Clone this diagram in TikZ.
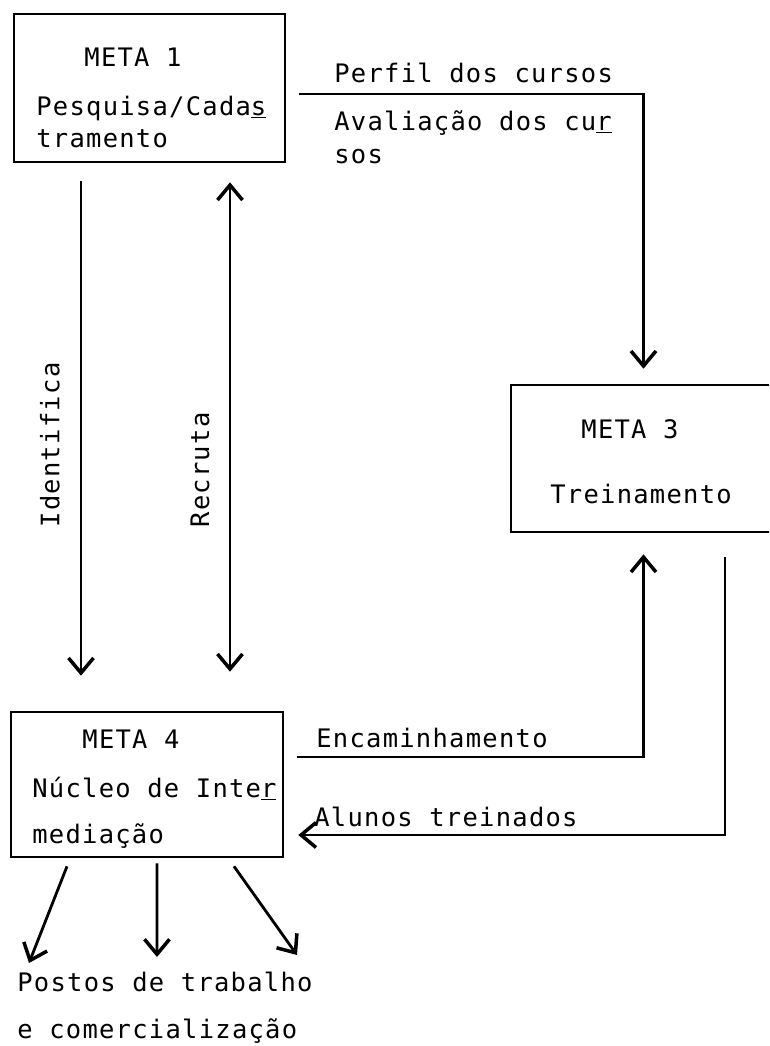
\documentclass[tikz,border=0pt]{standalone}
\usepackage{fontspec}
\newfontfamily\typewriter[LetterSpace=5]{DejaVu Sans Mono}
\usetikzlibrary{arrows.meta}

\begin{document}
\begin{tikzpicture}[x=0.02cm, y=-0.02cm,
      >={Straight Barb[length=3mm, width=5mm, line width=2pt]}]
       \tikzstyle{every node}=[font=\typewriter\fontsize{14.5}{17}\selectfont, inner sep=0pt]
       \tikzstyle{metabox}=[draw, line width=1.5pt]
       \tikzstyle{flowline}=[line width=1.6pt]
   \useasboundingbox (0,0) rectangle (769,1046);
   \clip (0,0) rectangle (769,1046);

% META 1: Pesquisa/Cadastramento
   \node[metabox, minimum width=5.42cm, minimum height=2.96cm] (meta1) at (149.5,88) {};
   \node[anchor=base] (meta1title) at (133,66) {META 1};
   \node[anchor=base west] (meta1text) at (36,115) {Pesquisa/Cada\underline{s}};
   \node[anchor=base west] (meta1cont) at (36,147) {tramento};

% META 3: Treinamento
   \node[metabox, minimum width=5.3cm, minimum height=2.94cm] (meta3) at (643.5,458.5) {};
   \node[anchor=base] (meta3title) at (630,438) {META 3};
   \node[anchor=base west] (meta3text) at (550,503) {Treinamento};

% META 4: Nucleo de Intermediacao
   \node[metabox, minimum width=5.44cm, minimum height=2.9cm] (meta4) at (147,784.5) {};
   \node[anchor=base] (meta4title) at (131,748) {META 4};
   \node[anchor=base west] (meta4text) at (32,797) {Núcleo de Inte\underline{r}};
   \node[anchor=base west] (meta4cont) at (32,843) {mediação};

% meta1 -> meta3
   \coordinate (perfilstart) at (299,94);
   \draw [flowline, ->, shorten >=0.3cm] (perfilstart) -| (meta3.north);
   \node[anchor=base west] (perfil) at (334,82) {Perfil dos cursos};
   \node[anchor=base west] (avaliacao) at (334,130) {Avaliação dos cu\underline{r}};
   \node[anchor=base west] (avaliacaocont) at (334,163) {sos};

% meta1 -> meta4, meta1 <-> meta4
   \coordinate (identx) at (81,0);
   \coordinate (recrutax) at (230,0);
   \draw [flowline, ->, shorten <=0.36cm, shorten >=0.7cm]
       (identx |- meta1.south) -- (identx |- meta4.north);
   \draw [flowline, <->, shorten <=0.38cm, shorten >=0.78cm]
       (recrutax |- meta1.south) -- (recrutax |- meta4.north);
   \node[rotate=90] (identifica) at (50,445) {Identifica};
   \node[rotate=90] (recruta) at (200,470) {Recruta};

% meta4 -> meta3
   \coordinate (encstart) at (297,757);
   \draw [flowline, ->, shorten >=0.42cm] (encstart) -| (meta3.south);
   \node[anchor=base west] (encaminhamento) at (316,747) {Encaminhamento};

% meta3 -> meta4
   \coordinate (alunostop) at (725,557);
   \coordinate (alunoscorner) at (725,835);
   \draw [flowline, ->, shorten >=0.28cm]
       (alunostop) -- (alunoscorner) -- (meta4.east |- alunoscorner);
   \node[anchor=base west] (alunos) at (314,826) {Alunos treinados};

% meta4 -> postos de trabalho
   \coordinate (postosleft) at (29,963);
   \coordinate (postosmid) at (157,957);
   \coordinate (postosright) at (297,955);
   \draw [flowline, ->] ([xshift=-1.6cm, yshift=-0.16cm]meta4.south) -- (postosleft);
   \draw [flowline, ->] ([xshift=0.2cm, yshift=-0.1cm]meta4.south) -- (postosmid);
   \draw [flowline, ->] ([xshift=1.74cm, yshift=-0.16cm]meta4.south) -- (postosright);
   \node[anchor=base west] (postos) at (17,991) {Postos de trabalho};
   \node[anchor=base west] (comercio) at (17,1038) {e comercialização};

\end{tikzpicture}
\end{document}
